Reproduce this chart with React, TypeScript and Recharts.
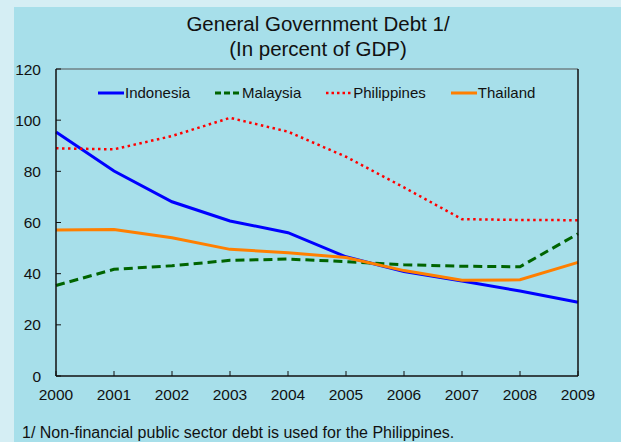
import React from 'react';
import { LineChart, Line, XAxis, YAxis, Legend, ReferenceLine } from 'recharts';

const years = ['2000', '2001', '2002', '2003', '2004', '2005', '2006', '2007', '2008', '2009'];
const indonesia = [95.4, 80.1, 68.1, 60.6, 56.0, 46.6, 40.8, 37.1, 33.2, 28.8];
const malaysia = [35.4, 41.7, 43.1, 45.2, 45.7, 44.7, 43.5, 42.9, 42.7, 55.6];
const philippines = [89.0, 88.6, 93.8, 100.9, 95.5, 85.7, 73.7, 61.3, 61.0, 60.9];
const thailand = [57.1, 57.3, 54.0, 49.5, 48.2, 46.3, 41.2, 37.4, 37.6, 44.4];
const yTicks = [0, 20, 40, 60, 80, 100, 120];

const data = years.map((year, i) => ({
  year,
  Indonesia: indonesia[i],
  Malaysia: malaysia[i],
  Philippines: philippines[i],
  Thailand: thailand[i],
}));

const font = '"Liberation Sans", Arial, sans-serif';

const series = [
  { key: 'Indonesia', color: '#0000ff', width: 3, dash: undefined, legendDash: undefined },
  { key: 'Malaysia', color: '#006400', width: 3, dash: '9 5', legendDash: '6 3' },
  { key: 'Philippines', color: '#ff0000', width: 2.5, dash: '2.5 3.5', legendDash: '2.5 3' },
  { key: 'Thailand', color: '#ff7f00', width: 3, dash: undefined, legendDash: undefined },
];

const LegendContent = () => (
  <div style={{ display: 'flex', gap: 25, paddingLeft: 98, fontFamily: font, fontSize: 15, color: '#111' }}>
    {series.map(s => (
      <div key={s.key} style={{ display: 'flex', alignItems: 'center' }}>
        <svg width={27} height={10}>
          <line x1={0} y1={5} x2={26} y2={5} stroke={s.color} strokeWidth={s.width} strokeDasharray={s.legendDash} />
        </svg>
        <span>{s.key}</span>
      </div>
    ))}
  </div>
);

const tickStyle = { fontSize: 15.5, fill: '#111', fontFamily: font };

export default function App() {
  return (
    <div style={{ position: 'absolute', left: 0, top: 0, width: 621, height: 442, background: '#d5eef4', overflow: 'hidden' }}>
      <div style={{ position: 'absolute', left: 14, top: 7, width: 607, height: 435, background: '#a7dfea' }} />
      <div style={{ position: 'absolute', left: 0, top: 11, width: 636, textAlign: 'center', fontFamily: font, fontSize: 20.5, lineHeight: '25px', color: '#111' }}>
        General Government Debt 1/
        <br />
        (In percent of GDP)
      </div>
      <div style={{ position: 'absolute', left: 0, top: 0 }}>
        <LineChart width={621} height={442} data={data} margin={{ top: 69, right: 42, bottom: 65, left: 55 }}>
          <XAxis
            dataKey="year"
            interval={0}
            height={1}
            tickSize={-5}
            tickMargin={18}
            fontSize={15.5}
            fontFamily={font}
            tick={tickStyle}
            axisLine={{ stroke: '#111', strokeWidth: 1.5 }}
            tickLine={{ stroke: '#111' }}
          />
          <YAxis
            yAxisId="left"
            domain={[0, 120]}
            ticks={yTicks}
            width={1}
            tickSize={-5}
            tickMargin={20}
            fontSize={15.5}
            fontFamily={font}
            tick={tickStyle}
            axisLine={{ stroke: '#111', strokeWidth: 1.5 }}
            tickLine={{ stroke: '#111' }}
          />
          <YAxis
            yAxisId="right"
            orientation="right"
            domain={[0, 120]}
            ticks={yTicks}
            width={1}
            tickSize={-5}
            tickMargin={19}
            fontSize={15.5}
            fontFamily={font}
            tick={{ ...tickStyle, textAnchor: 'start' }}
            axisLine={{ stroke: '#111', strokeWidth: 1.5 }}
            tickLine={{ stroke: '#111' }}
          />
          <ReferenceLine yAxisId="left" y={120} stroke="#555" strokeWidth={1.2} />
          <Legend
            verticalAlign="middle"
            align="center"
            layout="horizontal"
            content={<LegendContent />}
            wrapperStyle={{ top: 84, left: 0, width: 621 }}
          />
          {series.map(s => (
            <Line
              key={s.key}
              yAxisId="left"
              type="linear"
              dataKey={s.key}
              stroke={s.color}
              strokeWidth={s.width}
              strokeDasharray={s.dash}
              dot={false}
              activeDot={false}
              isAnimationActive={false}
            />
          ))}
        </LineChart>
      </div>
      <div style={{ position: 'absolute', left: 22, top: 424, fontFamily: font, fontSize: 16, lineHeight: '17px', color: '#111' }}>
        1/ Non-financial public sector debt is used for the Philippines.
      </div>
    </div>
  );
}
